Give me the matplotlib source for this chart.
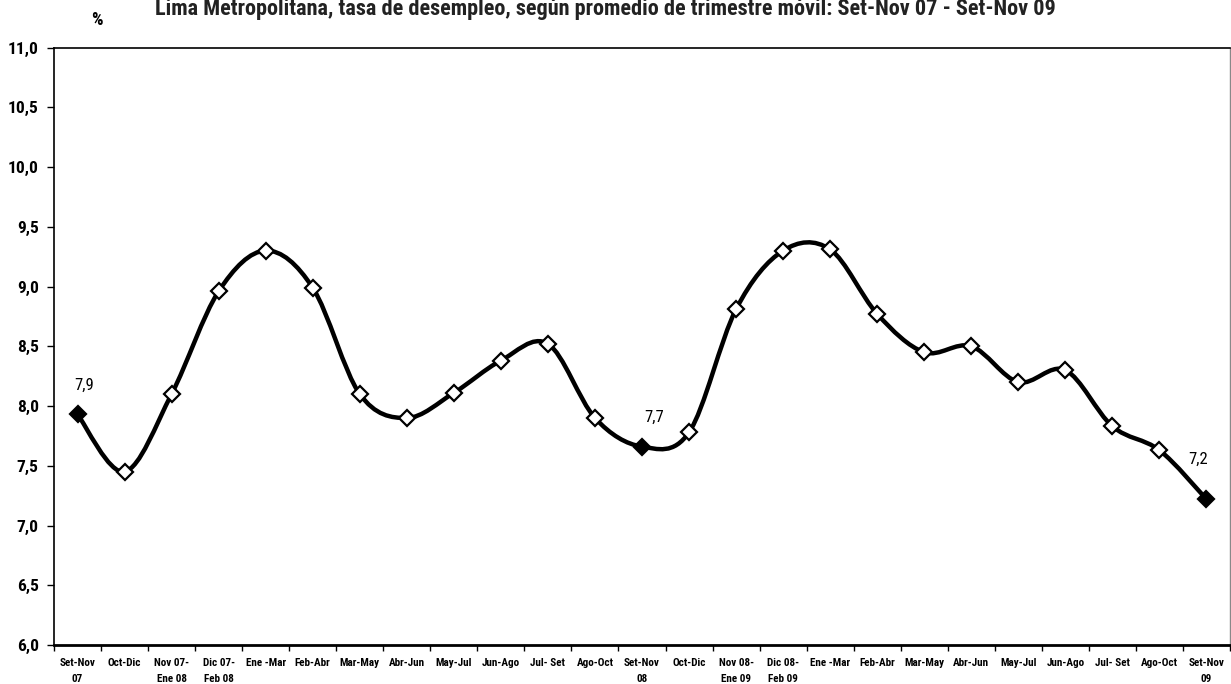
import numpy as np
import matplotlib
matplotlib.use("Agg")
import matplotlib.pyplot as plt
from matplotlib.path import Path
from matplotlib.patches import PathPatch
from matplotlib.ticker import FixedLocator

plt.rcParams['font.family'] = ['Roboto Condensed', 'DejaVu Sans']

# datos
periodos = ["Set-Nov\n07", "Oct-Dic", "Nov 07-\nEne 08", "Dic 07-\nFeb 08", "Ene -Mar",
            "Feb-Abr", "Mar-May", "Abr-Jun", "May-Jul", "Jun-Ago", "Jul- Set", "Ago-Oct",
            "Set-Nov\n08", "Oct-Dic", "Nov 08-\nEne 09", "Dic 08-\nFeb 09", "Ene -Mar",
            "Feb-Abr", "Mar-May", "Abr-Jun", "May-Jul", "Jun-Ago", "Jul- Set", "Ago-Oct",
            "Set-Nov\n09"]
tasa = [7.93, 7.45, 8.10, 8.96, 9.30, 8.99, 8.10, 7.90, 8.11, 8.38, 8.52, 7.90,
        7.66, 7.78, 8.81, 9.30, 9.31, 8.77, 8.45, 8.50, 8.20, 8.30, 7.83, 7.63, 7.22]
destacados = [0, 12, 24]
etiquetas = {0: "7,9", 12: "7,7", 24: "7,2"}

x = np.arange(len(tasa))
y = np.array(tasa)

fig = plt.figure(figsize=(12.31, 6.84), dpi=100)
ax = fig.add_axes([54/1231, 1 - 645/684, 1176/1231, (645 - 47.5)/684])

# linea suavizada tipo Excel (bezier con tangentes catmull-rom)
verts = [(x[0], y[0])]
codes = [Path.MOVETO]
n = len(x)
for i in range(n - 1):
    p0 = np.array([x[max(i - 1, 0)], y[max(i - 1, 0)]])
    p1 = np.array([x[i], y[i]])
    p2 = np.array([x[i + 1], y[i + 1]])
    p3 = np.array([x[min(i + 2, n - 1)], y[min(i + 2, n - 1)]])
    c1 = p1 + (p2 - p0) / 6
    c2 = p2 - (p3 - p1) / 6
    verts += [tuple(c1), tuple(c2), tuple(p2)]
    codes += [Path.CURVE4] * 3
ax.add_patch(PathPatch(Path(verts, codes), facecolor="none", edgecolor="black",
                       lw=3.2, capstyle="round", joinstyle="round", zorder=2))

normales = [i for i in x if i not in destacados]
ax.plot(x[normales], y[normales], "D", ms=8, mfc="white", mec="black", mew=1.6, zorder=3)
ax.plot(x[destacados], y[destacados], "D", ms=8, mfc="black", mec="black", mew=1.6, zorder=3)

offsets = {0: (5, 21), 12: (9, 21), 24: (-6, 29)}
for i, txt in etiquetas.items():
    ax.annotate(txt, (x[i], y[i]), xytext=offsets[i], textcoords="offset points",
                ha="center", va="center", fontsize=12)

ax.set_xlim(-0.5, n - 0.5)
ax.set_ylim(6.0, 11.0)
yt = np.arange(6.0, 11.01, 0.5)
ax.set_yticks(yt)
ax.set_yticklabels([f"{v:.1f}".replace(".", ",") for v in yt], fontsize=12.5, fontweight="bold")
ax.set_xticks(x)
ax.set_xticklabels(periodos, fontsize=8, fontweight="bold", linespacing=1.75)
ax.xaxis.set_minor_locator(FixedLocator(np.arange(-0.5, n, 1.0)))
ax.tick_params(axis="x", which="major", length=0, pad=9)
ax.tick_params(axis="x", which="minor", length=4, width=1)
ax.tick_params(axis="y", length=5, width=1, pad=6)

for s in ["left", "top"]:
    ax.spines[s].set_linewidth(1.2)
ax.spines["bottom"].set_linewidth(2)
ax.spines["right"].set_linewidth(1)
ax.spines["right"].set_color("#888888")

fig.text(97/1231, 1 - 20/684, "%", ha="center", va="center", fontsize=13, fontweight="bold")
fig.text(605/1231, 1 - 9/684,
         "Lima Metropolitana, tasa de desempleo, según promedio de trimestre móvil: Set-Nov 07 - Set-Nov 09",
         ha="center", va="center", fontsize=16, fontweight="bold", color="#222222")

fig.savefig("out.png", dpi=100)
